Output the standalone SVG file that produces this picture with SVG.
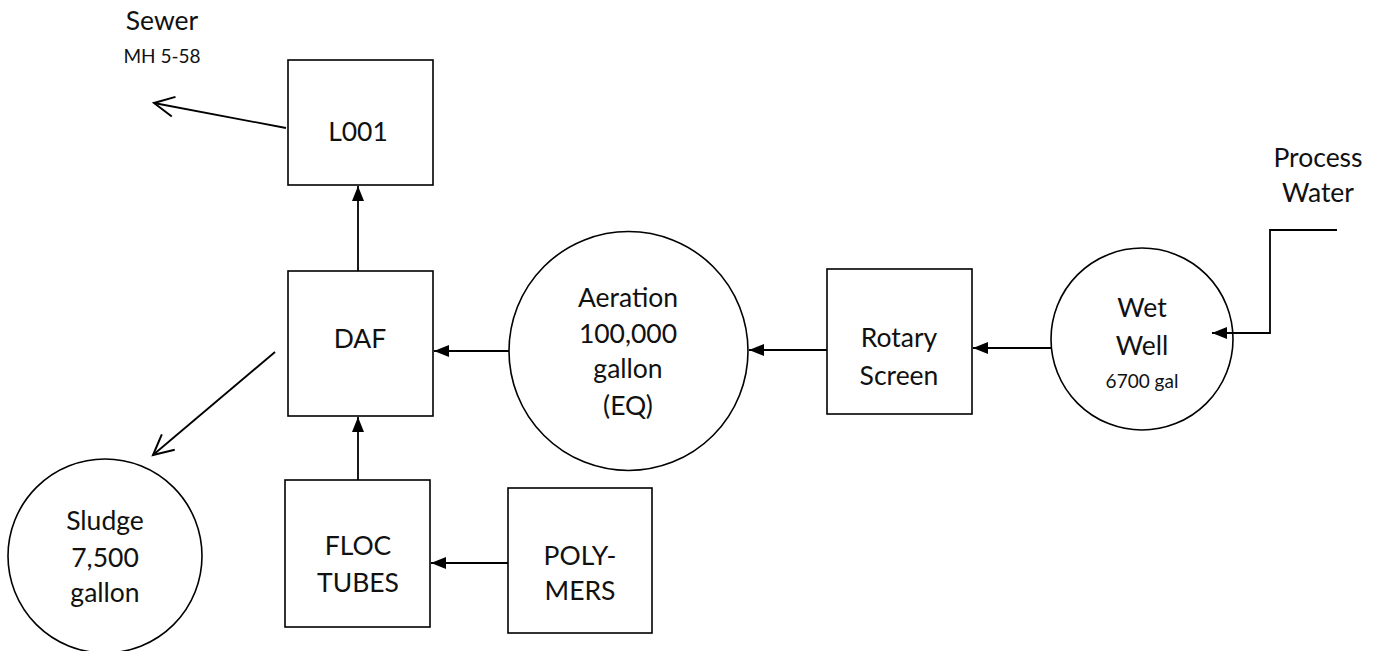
<svg xmlns="http://www.w3.org/2000/svg" width="1378" height="651" viewBox="0 0 1378 651">
<defs>
<style>
.shape{fill:#fff;stroke:#000;stroke-width:1.6}
.conn{fill:none;stroke:#000;stroke-width:1.8}
.t{font-family:Lato,"Open Sans","Liberation Sans",sans-serif;font-size:26.5px;fill:#111;text-anchor:middle}
.s{font-size:19px}
</style>
<marker id="fill" markerUnits="userSpaceOnUse" markerWidth="18" markerHeight="14" viewBox="-16 -7 18 14" refX="0" refY="0" orient="auto">
<path d="M-15,-6 L0,0 L-15,6 Z" fill="#000"/>
</marker>
<marker id="open" markerUnits="userSpaceOnUse" markerWidth="26" markerHeight="26" viewBox="-23 -13 26 26" refX="0" refY="0" orient="auto">
<path d="M-20,-10 L0,0 L-20,10" fill="none" stroke="#000" stroke-width="2"/>
</marker>
</defs>
<rect width="1378" height="651" fill="#fff"/>

<g id="sewer">
<text class="t" x="162" y="30">Sewer</text>
<text class="t s" x="162" y="63">MH 5-58</text>
</g>

<g id="process-water">
<text class="t" x="1318" y="167">Process</text>
<text class="t" x="1318" y="202">Water</text>
</g>

<g id="l001">
<rect class="shape" x="288" y="60" width="145" height="125"/>
<text class="t" x="358" y="141">L001</text>
</g>

<g id="daf">
<rect class="shape" x="288" y="271" width="145" height="145"/>
<text class="t" x="360" y="348">DAF</text>
</g>

<g id="floc">
<rect class="shape" x="285" y="480" width="145" height="147"/>
<text class="t" x="358" y="555">FLOC</text>
<text class="t" x="358" y="592">TUBES</text>
</g>

<g id="polymers">
<rect class="shape" x="508" y="488" width="144" height="145"/>
<text class="t" x="580" y="565">POLY-</text>
<text class="t" x="580" y="600">MERS</text>
</g>

<g id="sludge">
<circle class="shape" cx="105" cy="556" r="97"/>
<text class="t" x="105" y="530">Sludge</text>
<text class="t" x="105" y="567">7,500</text>
<text class="t" x="105" y="602">gallon</text>
</g>

<g id="aeration">
<circle class="shape" cx="628.5" cy="351" r="119.5"/>
<text class="t" x="628" y="307">Aeration</text>
<text class="t" x="628" y="343">100,000</text>
<text class="t" x="628" y="378">gallon</text>
<text class="t" x="628" y="415">(EQ)</text>
</g>

<g id="rotary-screen">
<rect class="shape" x="827" y="269" width="145" height="145"/>
<text class="t" x="899" y="347">Rotary</text>
<text class="t" x="899" y="385">Screen</text>
</g>

<g id="wet-well">
<circle class="shape" cx="1142" cy="339" r="91"/>
<text class="t" x="1142" y="317">Wet</text>
<text class="t" x="1142" y="355">Well</text>
<text class="t s" x="1142" y="388">6700 gal</text>
</g>

<g id="connectors">
<path class="conn" d="M286,128 L154,103" marker-end="url(#open)"/>
<path class="conn" d="M358,271 L358,186" marker-end="url(#fill)"/>
<path class="conn" d="M275,352 L153,455" marker-end="url(#open)"/>
<path class="conn" d="M358,480 L358,417" marker-end="url(#fill)"/>
<path class="conn" d="M509,351 L434,351" marker-end="url(#fill)"/>
<path class="conn" d="M827,350 L749,350" marker-end="url(#fill)"/>
<path class="conn" d="M1051,348 L973,348" marker-end="url(#fill)"/>
<path class="conn" d="M1337,230 L1270,230 L1270,333 L1212,333" marker-end="url(#fill)"/>
<path class="conn" d="M508,563 L431,563" marker-end="url(#fill)"/>
</g>
</svg>
